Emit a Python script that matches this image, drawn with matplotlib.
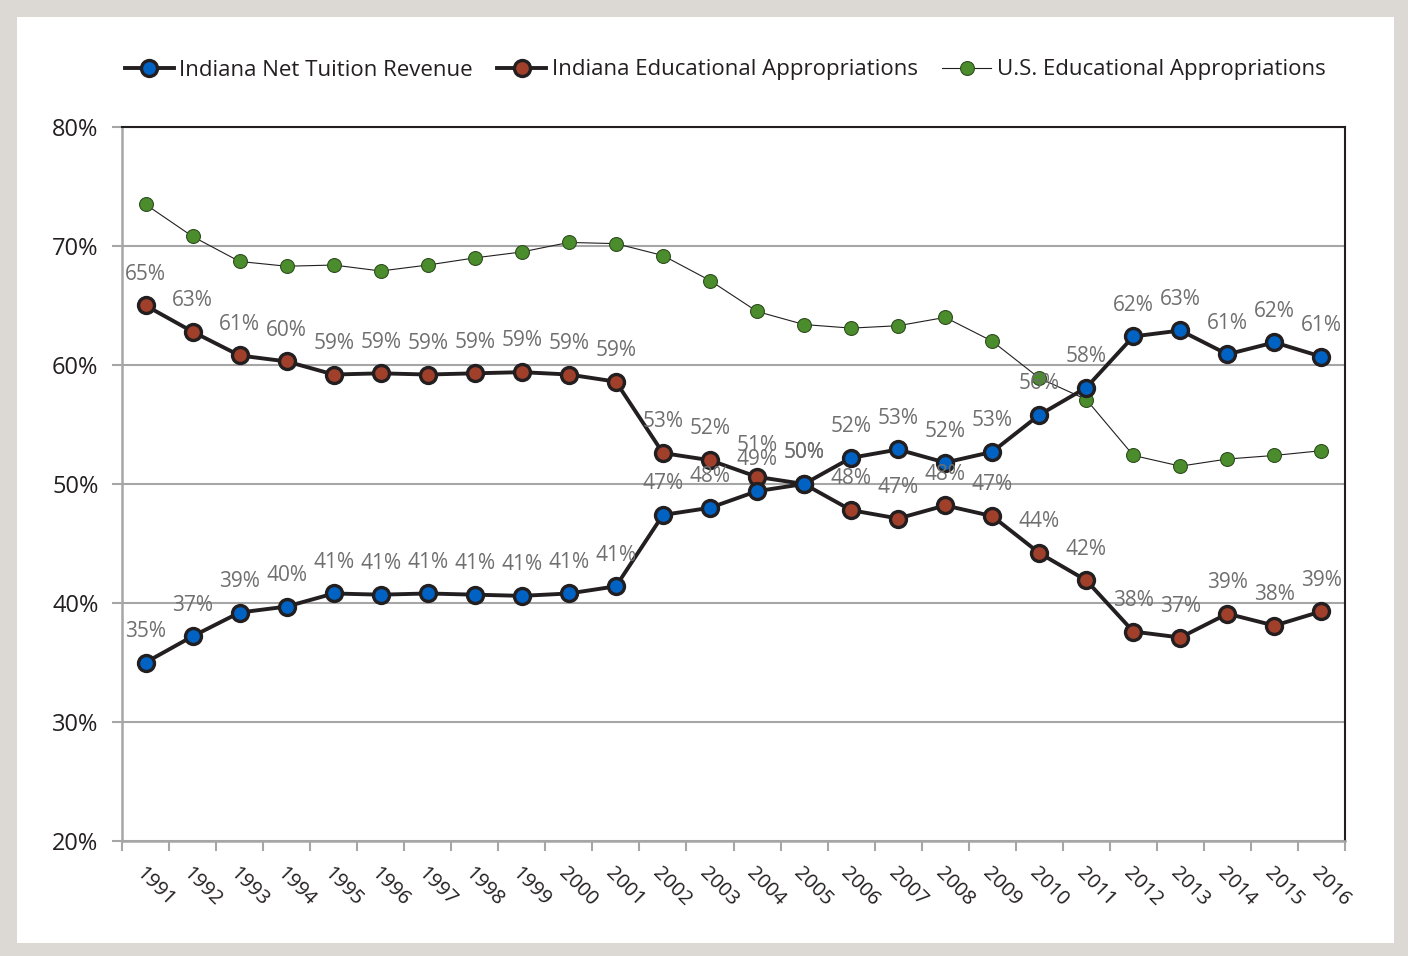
import matplotlib
matplotlib.use("Agg")
import matplotlib.pyplot as plt
from matplotlib.patches import Rectangle
from matplotlib.ticker import FixedLocator, FuncFormatter

plt.rcParams['font.family'] = ['Open Sans', 'DejaVu Sans']

years = [str(y) for y in range(1991, 2017)]
tuition = [35.0, 37.2, 39.2, 39.7, 40.8, 40.7, 40.8, 40.7, 40.6, 40.8, 41.4, 47.4, 48.0,
           49.4, 50.0, 52.2, 52.9, 51.8, 52.7, 55.8, 58.1, 62.4, 62.9, 60.9, 61.9, 60.7]
approp = [65.0, 62.8, 60.8, 60.3, 59.2, 59.3, 59.2, 59.3, 59.4, 59.2, 58.6, 52.6, 52.0,
          50.6, 50.0, 47.8, 47.1, 48.2, 47.3, 44.2, 41.9, 37.6, 37.1, 39.1, 38.1, 39.3]
us_approp = [73.5, 70.8, 68.7, 68.3, 68.4, 67.9, 68.4, 69.0, 69.5, 70.3, 70.2, 69.2, 67.1,
             64.5, 63.4, 63.1, 63.3, 64.0, 62.0, 58.9, 57.1, 52.4, 51.5, 52.1, 52.4, 52.8]
yticks = [20, 30, 40, 50, 60, 70, 80]

W, H = 1408, 956
fig = plt.figure(figsize=(W / 100, H / 100), dpi=100)
fig.patch.set_facecolor('#dcd9d5')
bg = Rectangle((17 / W, 1 - 943 / H), (1394 - 17) / W, (943 - 17) / H,
               transform=fig.transFigure, facecolor='white', edgecolor='none', zorder=-10)
fig.patches.append(bg)

ax = fig.add_axes([122 / W, 1 - 841 / H, (1345 - 122) / W, (841 - 127) / H])
ax.set_zorder(1)
ax.set_facecolor('white')
x = list(range(len(years)))

l1, = ax.plot(x, tuition, color='#231f20', lw=2.8, marker='o', ms=11.5,
              mfc='#0063c4', mec='#231f20', mew=2.4, zorder=5, label='Indiana Net Tuition Revenue')
l2, = ax.plot(x, approp, color='#231f20', lw=2.8, marker='o', ms=11.5,
              mfc='#a0402a', mec='#231f20', mew=2.4, zorder=4, label='Indiana Educational Appropriations')
l3, = ax.plot(x, us_approp, color='#231f20', lw=0.8, marker='o', ms=10,
              mfc='#4b8c2c', mec='#2f4f20', mew=0.8, zorder=3, label='U.S. Educational Appropriations')

for xi, v in zip(x, tuition):
    ax.annotate(f"{round(v)}%", (xi, v), xytext=(0, 22.5), textcoords='offset points',
                ha='center', va='center', fontsize=15, color='#6f6f6f', zorder=6)
for xi, v in zip(x, approp):
    ax.annotate(f"{round(v)}%", (xi, v), xytext=(0, 22.5), textcoords='offset points',
                ha='center', va='center', fontsize=15, color='#6f6f6f', zorder=6)

ax.set_xlim(-0.5, len(years) - 0.5)
ax.set_ylim(20, 80)
ax.yaxis.set_major_locator(FixedLocator(yticks))
ax.yaxis.set_major_formatter(FuncFormatter(lambda v, p: f"{int(v)}%"))
ax.grid(axis='y', color='#a6a6a6', lw=1.5, zorder=1)
ax.set_axisbelow(True)

ax.set_xticks(x)
ax.set_xticklabels(years, rotation=-45, ha='left', va='top', rotation_mode='anchor')
ax.set_xticks([i - 0.5 for i in range(len(years) + 1)], minor=True)
ax.tick_params(axis='x', which='major', length=0, pad=16, labelsize=14.5, labelcolor='#231f20')
ax.tick_params(axis='x', which='minor', length=7, width=1.5, color='#a6a6a6', direction='out')
ax.tick_params(axis='y', which='major', length=7, width=1.5, color='#a6a6a6', labelsize=17,
               labelcolor='#231f20', pad=10)

for s in ['left', 'bottom']:
    ax.spines[s].set_color('#a6a6a6')
    ax.spines[s].set_linewidth(1.8)
for s in ['top', 'right']:
    ax.spines[s].set_color('#231f20')
    ax.spines[s].set_linewidth(1.5)

fig.legend(handles=[l1, l2, l3], loc='center', bbox_to_anchor=(725 / W, 1 - 70 / H), ncol=3,
           frameon=False, fontsize=16, handlelength=2.2, handletextpad=0.25, columnspacing=1.1,
           labelcolor='#231f20')

fig.savefig('out.png', dpi=100, facecolor=fig.get_facecolor())
